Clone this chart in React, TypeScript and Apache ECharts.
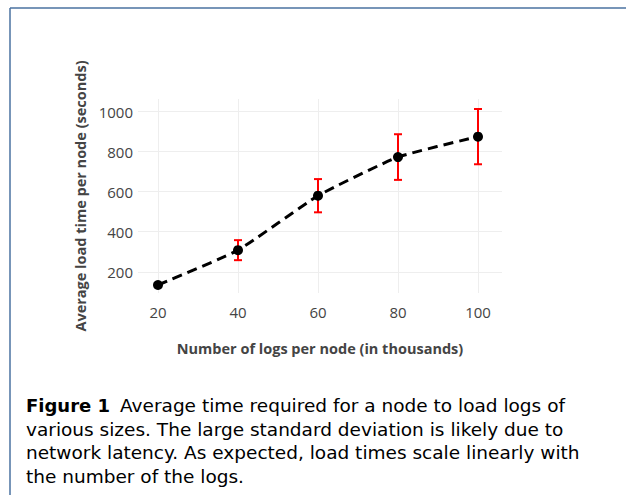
import React, { useEffect, useRef } from "react";
import * as echarts from "echarts";

const logsK = [20, 40, 60, 80, 100];
const avgLoad = [134, 308, 580, 773, 875];
const stdDev = [0, 50, 83, 114, 138];
const xTicks = [20, 40, 60, 80, 100];
const yTicks = [200, 400, 600, 800, 1000];
const captionLabel = "Figure 1";
const captionLines = [
  "Average time required for a node to load logs of",
  "various sizes. The large standard deviation is likely due to",
  "network latency. As expected, load times scale linearly with",
  "the number of the logs.",
];

export default function App() {
  const ref = useRef<HTMLDivElement>(null);
  useEffect(() => {
    if (!ref.current) return;
    const chart = echarts.init(ref.current, undefined, { renderer: "svg" });
    const gridColor = "#eeeeee";
    const font = "'Open Sans', sans-serif";
    const capFont = "'DejaVu Sans', sans-serif";
    const capSize = 18.5;
    const capTop = 396;
    const capLH = 23.5;
    const captionGraphics: any[] = [];
    captionLines.forEach((t, i) => {
      captionGraphics.push({
        type: "text",
        left: 26,
        top: capTop + i * capLH,
        style:
          i === 0
            ? {
                text: `{b|${captionLabel}}{n|${t}}`,
                rich: {
                  b: {
                    font: `bold ${capSize - 0.5}px ${capFont}`,
                    fill: "#000",
                    padding: [0, 10, 0, 0],
                  },
                  n: { font: `${capSize}px ${capFont}`, fill: "#000" },
                },
              }
            : { text: t, font: `${capSize}px ${capFont}`, fill: "#000" },
      });
    });
    const option: any = {
      animation: false,
      backgroundColor: "#ffffff",
      grid: { left: 138, right: 124, top: 99, bottom: 202, containLabel: false },
      xAxis: {
        type: "value",
        min: 15,
        max: 106,
        name: "Number of logs per node (in thousands)",
        nameLocation: "middle",
        nameGap: 48,
        nameTextStyle: { fontFamily: font, fontSize: 14.5, fontWeight: "bold", color: "#444" },
        axisLine: { show: false },
        axisTick: { show: false, customValues: xTicks },
        axisLabel: {
          customValues: xTicks,
          formatter: (v: number) => String(v),
          fontFamily: font,
          fontSize: 15,
          color: "#444",
          margin: 11,
        },
        splitLine: { show: true, lineStyle: { color: gridColor, width: 1 } },
      },
      yAxis: {
        type: "value",
        min: 94,
        max: 1063,
        name: "Average load time per node (seconds)",
        nameLocation: "middle",
        nameGap: 42,
        nameTextStyle: { fontFamily: font, fontSize: 14.5, fontWeight: "bold", color: "#444" },
        axisLine: { show: false },
        axisTick: { show: false, customValues: yTicks },
        axisLabel: {
          customValues: yTicks,
          formatter: (v: number) => String(v),
          fontFamily: font,
          fontSize: 15,
          color: "#444",
          margin: 5,
        },
        splitLine: { show: true, lineStyle: { color: gridColor, width: 1 } },
      },
      graphic: [
        {
          type: "line",
          shape: { x1: 10, y1: 8, x2: 626, y2: 8 },
          style: { stroke: "#4a72a0", lineWidth: 1.5 },
        },
        {
          type: "line",
          shape: { x1: 10, y1: 8, x2: 10, y2: 495 },
          style: { stroke: "#4a72a0", lineWidth: 1.5 },
        },
        ...captionGraphics,
      ],
      series: [
        {
          type: "custom",
          z: 1,
          data: logsK.map((x, i) => [x, avgLoad[i] - stdDev[i], avgLoad[i] + stdDev[i]]),
          renderItem: (params: any, api: any) => {
            const x = api.value(0);
            const lo = api.coord([x, api.value(1)]);
            const hi = api.coord([x, api.value(2)]);
            const hw = 4;
            const st = { stroke: "#ff0000", lineWidth: 2 };
            return {
              type: "group",
              children: [
                { type: "line", shape: { x1: lo[0], y1: lo[1], x2: hi[0], y2: hi[1] }, style: st },
                { type: "line", shape: { x1: lo[0] - hw, y1: lo[1], x2: lo[0] + hw, y2: lo[1] }, style: st },
                { type: "line", shape: { x1: hi[0] - hw, y1: hi[1], x2: hi[0] + hw, y2: hi[1] }, style: st },
              ],
            };
          },
        },
        {
          type: "line",
          z: 3,
          data: logsK.map((x, i) => [x, avgLoad[i]]),
          smooth: 0.15,
          symbol: "circle",
          symbolSize: 10,
          itemStyle: { color: "#000" },
          lineStyle: { color: "#000", width: 3, type: [10, 6] },
        },
      ],
    };
    chart.setOption(option);
    return () => chart.dispose();
  }, []);
  return (
    <div
      ref={ref}
      style={{ position: "fixed", left: 0, top: 0, width: 626, height: 495 }}
    />
  );
}
